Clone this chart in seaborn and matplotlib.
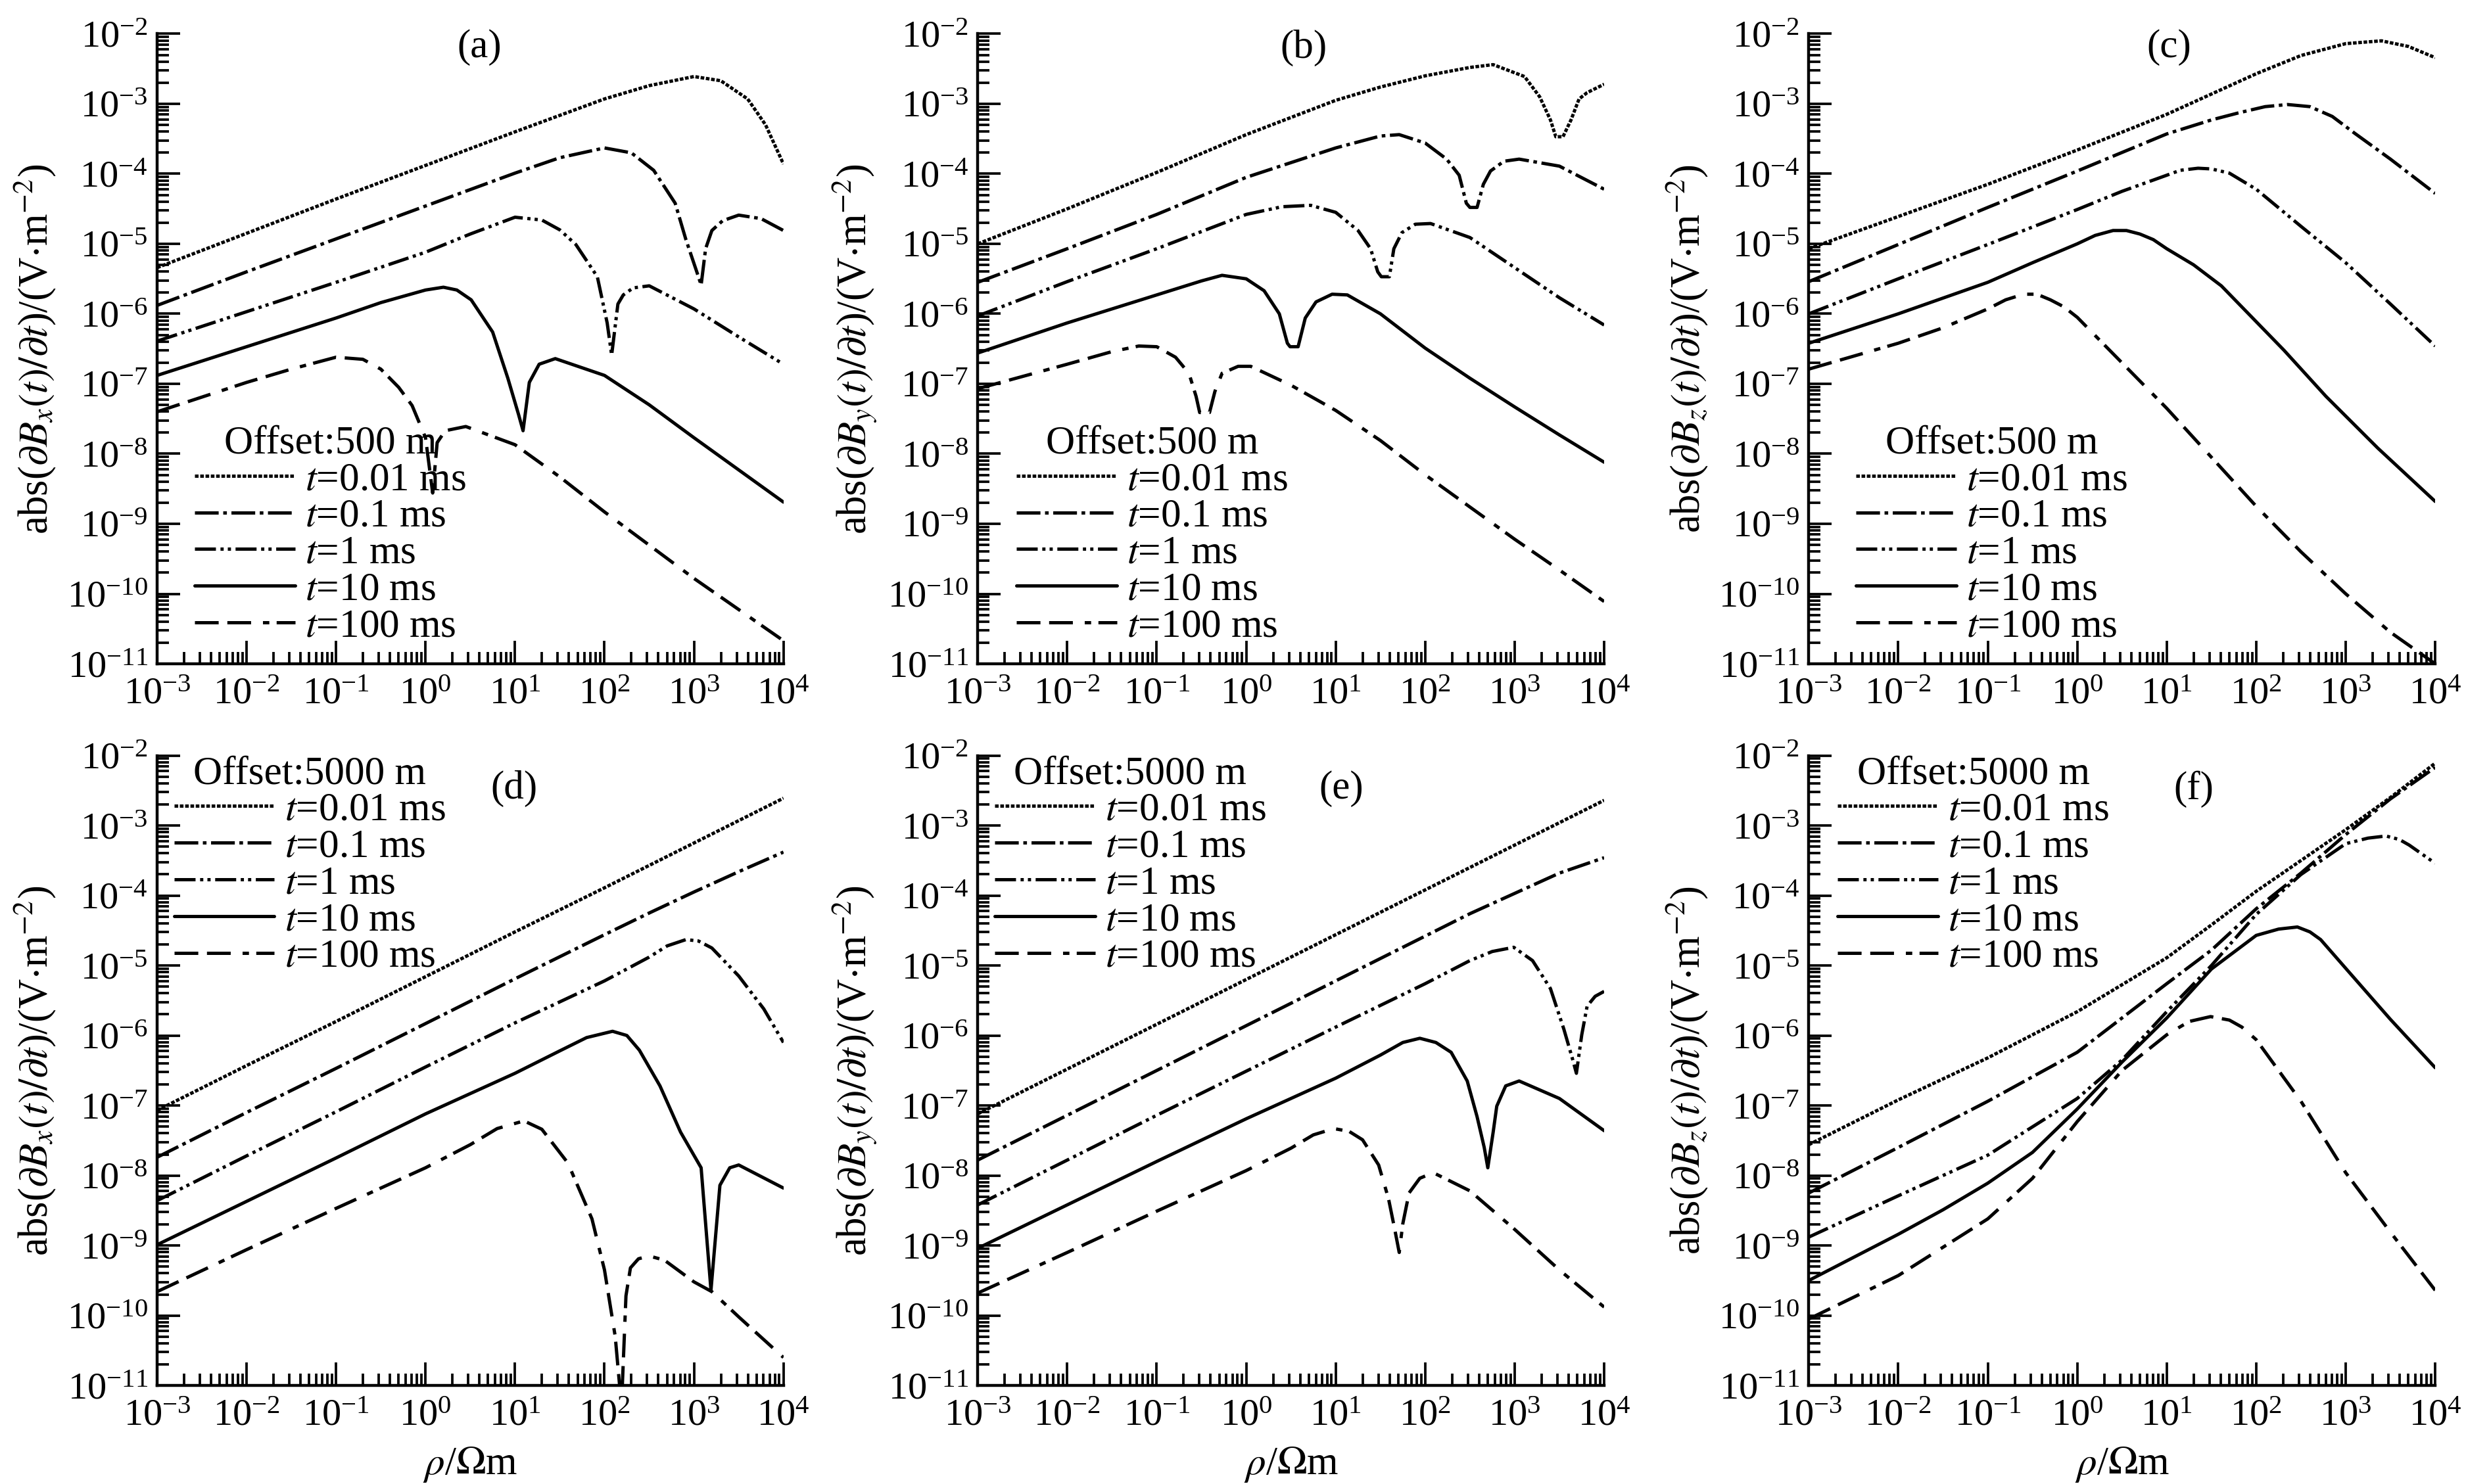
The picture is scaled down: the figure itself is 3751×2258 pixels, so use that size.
import numpy as np
import matplotlib
matplotlib.use('Agg')
import matplotlib.pyplot as plt
import seaborn as sns
from matplotlib.ticker import LogLocator, NullFormatter

# curve labels (time after turn-off)
times = ['0.01', '0.1', '1', '10', '100']

# every curve: (log10 rho [Ohm m], log10 |dB/dt| [V m^-2])
# (a) Bx, offset 500 m
a_t001 = [(-3, -5.34), (-2, -4.85), (-1, -4.36), (0, -3.88), (1, -3.40), (2, -2.93), (2.5, -2.74),
          (3, -2.61), (3.3, -2.67), (3.6, -2.93), (3.8, -3.30), (4, -3.86)]
a_t01 = [(-3, -5.88), (-2, -5.40), (-1, -4.93), (0, -4.46), (1, -3.99), (1.5, -3.77), (2, -3.63),
         (2.3, -3.70), (2.55, -3.95), (2.79, -4.42), (2.91, -4.94), (3.05, -5.47), (3.08, -5.59),
         (3.13, -5.07), (3.2, -4.81), (3.32, -4.67), (3.5, -4.59), (3.75, -4.64), (4, -4.81)]
a_t1 = [(-3, -6.39), (-2, -5.97), (-1, -5.55), (0, -5.12), (0.5, -4.86), (1, -4.62), (1.3, -4.66),
        (1.5, -4.80), (1.68, -5.01), (1.92, -5.47), (2.03, -6.13), (2.08, -6.59), (2.15, -5.86),
        (2.21, -5.73), (2.32, -5.63), (2.5, -5.60), (3, -5.93), (3.5, -6.33), (4, -6.72)]
a_t10 = [(-3, -6.88), (-2, -6.47), (-1, -6.06), (-0.5, -5.84), (0, -5.66), (0.2, -5.62), (0.35, -5.66),
         (0.51, -5.80), (0.75, -6.26), (0.92, -6.92), (1.04, -7.44), (1.09, -7.67), (1.16, -6.98),
         (1.27, -6.72), (1.45, -6.64), (2, -6.88), (2.5, -7.30), (3, -7.77), (3.5, -8.23), (4, -8.69)]
a_t100 = [(-3, -7.40), (-2, -6.98), (-1.5, -6.79), (-1, -6.62), (-0.7, -6.65), (-0.5, -6.79),
          (-0.3, -7.05), (-0.15, -7.31), (0, -7.77), (0.08, -8.56), (0.13, -7.84), (0.22, -7.67),
          (0.45, -7.61), (1, -7.87), (1.5, -8.33), (2, -8.83), (3, -9.78), (4, -10.67)]

# (b) By, offset 500 m
b_t001 = [(-3, -5.0), (-2, -4.50), (-1, -3.98), (0, -3.44), (1, -2.95), (1.5, -2.76), (2, -2.60),
          (2.5, -2.48), (2.76, -2.44), (3.11, -2.61), (3.28, -2.90), (3.40, -3.23), (3.46, -3.47),
          (3.54, -3.47), (3.63, -3.23), (3.72, -2.93), (3.81, -2.84), (4, -2.72)]
b_t01 = [(-3, -5.55), (-2, -5.07), (-1, -4.58), (0, -4.05), (1, -3.63), (1.5, -3.46), (1.71, -3.44),
         (2, -3.56), (2.24, -3.79), (2.38, -4.02), (2.46, -4.42), (2.5, -4.48), (2.58, -4.48),
         (2.65, -4.15), (2.73, -3.96), (2.88, -3.82), (3.05, -3.79), (3.5, -3.89), (4, -4.22)]
b_t1 = [(-3, -6.03), (-2, -5.54), (-1, -5.07), (0, -4.58), (0.4, -4.47), (0.72, -4.45), (1, -4.55),
        (1.25, -4.81), (1.39, -5.07), (1.47, -5.40), (1.51, -5.47), (1.6, -5.47), (1.65, -5.07),
        (1.74, -4.84), (1.89, -4.72), (2.06, -4.71), (2.5, -4.91), (3, -5.34), (3.5, -5.77), (4, -6.16)]
b_t10 = [(-3, -6.56), (-2, -6.13), (-1, -5.73), (-0.5, -5.53), (-0.27, -5.45), (0, -5.50), (0.2, -5.67),
         (0.37, -6.0), (0.46, -6.42), (0.49, -6.47), (0.58, -6.47), (0.66, -6.06), (0.78, -5.83),
         (0.96, -5.72), (1.13, -5.73), (1.5, -6.0), (2, -6.49), (2.5, -6.92), (3, -7.33), (3.5, -7.73),
         (4, -8.12)]
b_t100 = [(-3, -7.07), (-2, -6.72), (-1.5, -6.54), (-1.2, -6.46), (-1, -6.47), (-0.79, -6.62),
          (-0.64, -6.85), (-0.56, -7.18), (-0.52, -7.41), (-0.41, -7.41), (-0.35, -7.11), (-0.27, -6.85),
          (-0.09, -6.75), (0.05, -6.75), (0.5, -7.02), (1, -7.38), (1.5, -7.81), (2, -8.30),
          (2.5, -8.76), (3, -9.22), (3.5, -9.66), (4, -10.11)]

# (c) Bz, offset 500 m
c_t001 = [(-3, -5.07), (-2, -4.61), (-1, -4.15), (0, -3.66), (1, -3.15), (2, -2.57), (2.5, -2.31),
          (3, -2.14), (3.4, -2.10), (3.7, -2.18), (4, -2.34)]
c_t01 = [(-3, -5.54), (-2, -5.01), (-1, -4.48), (0, -3.96), (1, -3.43), (1.5, -3.23), (1.8, -3.13),
         (2.1, -3.04), (2.35, -3.01), (2.6, -3.04), (2.85, -3.18), (3.1, -3.42), (3.5, -3.79), (4, -4.28)]
c_t1 = [(-3, -6.0), (-2, -5.50), (-1, -5.01), (0, -4.51), (0.5, -4.25), (1, -4.02), (1.15, -3.95),
        (1.35, -3.92), (1.5, -3.93), (1.7, -3.99), (2, -4.22), (2.5, -4.75), (3, -5.27), (3.5, -5.86),
        (4, -6.46)]
c_t10 = [(-3, -6.42), (-2, -6.0), (-1, -5.55), (-0.5, -5.27), (0, -5.0), (0.2, -4.88), (0.4, -4.81),
         (0.55, -4.81), (0.7, -4.86), (0.85, -4.94), (1, -5.07), (1.3, -5.30), (1.61, -5.60),
         (2.31, -6.52), (2.78, -7.18), (3.36, -7.92), (4, -8.68)]
c_t100 = [(-3, -6.79), (-2, -6.42), (-1.5, -6.20), (-1, -5.93), (-0.8, -5.80), (-0.6, -5.72),
          (-0.45, -5.72), (-0.3, -5.80), (-0.15, -5.90), (0, -6.05), (0.5, -6.70), (1, -7.35),
          (1.5, -8.05), (2, -8.75), (2.5, -9.40), (3, -10.0), (3.5, -10.55), (4, -11.0)]

# (d) Bx, offset 5000 m
d_t001 = [(-3, -7.07), (-2, -6.43), (-1, -5.80), (0, -5.16), (1, -4.52), (2, -3.89), (3, -3.25), (4, -2.61)]
d_t01 = [(-3, -7.74), (-2, -7.10), (-1, -6.47), (0, -5.83), (1, -5.19), (2, -4.56), (2.5, -4.25),
         (3, -3.95), (3.5, -3.66), (4, -3.38)]
d_t1 = [(-3, -8.36), (-2, -7.72), (-1, -7.09), (0, -6.45), (1, -5.82), (2, -5.22), (2.5, -4.88),
        (2.7, -4.72), (2.91, -4.63), (3.05, -4.65), (3.2, -4.75), (3.5, -5.15), (3.78, -5.62), (4, -6.10)]
d_t10 = [(-3, -8.99), (-2, -8.37), (-1, -7.75), (0, -7.12), (1, -6.54), (1.5, -6.22), (1.8, -6.03),
         (2.09, -5.94), (2.25, -6.0), (2.39, -6.21), (2.62, -6.72), (2.85, -7.38), (3.08, -7.89),
         (3.19, -9.64), (3.29, -8.14), (3.40, -7.89), (3.5, -7.85), (4, -8.18)]
d_t100 = [(-3, -9.66), (-2, -9.06), (-1, -8.47), (0, -7.89), (0.5, -7.56), (0.8, -7.33), (1.1, -7.22),
          (1.30, -7.34), (1.59, -7.82), (1.86, -8.62), (2.0, -9.35), (2.12, -10.30), (2.19, -11.3),
          (2.24, -9.72), (2.29, -9.32), (2.38, -9.19), (2.5, -9.15), (2.67, -9.21), (3.0, -9.52),
          (3.2, -9.66), (3.5, -10.02), (4, -10.60)]

# (e) By, offset 5000 m
e_t001 = [(-3, -7.12), (-2, -6.48), (-1, -5.84), (0, -5.20), (1, -4.56), (2, -3.92), (3, -3.28), (4, -2.64)]
e_t01 = [(-3, -7.78), (-2, -7.14), (-1, -6.50), (0, -5.86), (1, -5.22), (2, -4.58), (2.5, -4.26),
         (3, -3.97), (3.5, -3.68), (4, -3.46)]
e_t1 = [(-3, -8.42), (-2, -7.78), (-1, -7.14), (0, -6.51), (1, -5.88), (2, -5.26), (2.5, -4.93),
        (2.75, -4.80), (2.99, -4.74), (3.2, -4.93), (3.4, -5.33), (3.55, -5.91), (3.65, -6.35),
        (3.69, -6.54), (3.75, -5.99), (3.81, -5.58), (3.9, -5.44), (4, -5.37)]
e_t10 = [(-3, -9.04), (-2, -8.42), (-1, -7.80), (0, -7.19), (1, -6.61), (1.5, -6.28), (1.75, -6.10),
         (1.94, -6.04), (2.12, -6.10), (2.29, -6.24), (2.47, -6.65), (2.58, -7.16), (2.66, -7.60),
         (2.70, -7.89), (2.76, -7.38), (2.80, -7.01), (2.90, -6.72), (3.05, -6.65), (3.5, -6.90),
         (4, -7.36)]
e_t100 = [(-3, -9.68), (-2, -9.10), (-1, -8.51), (0, -7.93), (0.5, -7.61), (0.75, -7.42), (0.98, -7.33),
          (1.15, -7.37), (1.30, -7.49), (1.48, -7.85), (1.59, -8.33), (1.66, -8.77), (1.71, -9.10),
          (1.75, -8.69), (1.82, -8.25), (1.94, -8.04), (2.09, -7.96), (2.5, -8.22), (3, -8.77),
          (3.5, -9.35), (4, -9.88)]

# (f) Bz, offset 5000 m
f_t001 = [(-3, -7.56), (-2, -6.92), (-1, -6.32), (0, -5.66), (1, -4.89), (1.5, -4.42), (2, -3.94),
          (2.5, -3.50), (3, -3.06), (3.5, -2.60), (4, -2.11)]
f_t01 = [(-3, -8.25), (-2, -7.60), (-1, -6.94), (0, -6.24), (1, -5.26), (1.5, -4.78), (2, -4.19),
         (2.5, -3.68), (3, -3.13), (3.5, -2.62), (4, -2.17)]
f_t1 = [(-3, -8.88), (-2, -8.29), (-1, -7.71), (0, -6.90), (0.5, -6.35), (1, -5.66), (1.5, -5.0),
        (2, -4.27), (2.5, -3.70), (3, -3.26), (3.25, -3.18), (3.45, -3.15), (3.6, -3.20), (3.71, -3.28),
        (4, -3.54)]
f_t10 = [(-3, -9.50), (-2, -8.84), (-1.5, -8.49), (-1, -8.11), (-0.5, -7.67), (0, -7.05), (0.5, -6.38),
         (1, -5.75), (1.5, -5.05), (2, -4.57), (2.25, -4.48), (2.46, -4.45), (2.6, -4.52), (2.72, -4.63),
         (3, -5.04), (3.5, -5.77), (4, -6.46)]
f_t100 = [(-3, -10.05), (-2, -9.43), (-1, -8.62), (-0.5, -8.04), (0, -7.23), (0.5, -6.50), (1, -5.99),
          (1.25, -5.80), (1.49, -5.73), (1.7, -5.78), (1.84, -5.88), (2, -6.06), (2.5, -6.94),
          (3, -7.96), (3.5, -8.81), (4, -9.64)]

panel_curves = [
    [a_t001, a_t01, a_t1, a_t10, a_t100],
    [b_t001, b_t01, b_t1, b_t10, b_t100],
    [c_t001, c_t01, c_t1, c_t10, c_t100],
    [d_t001, d_t01, d_t1, d_t10, d_t100],
    [e_t001, e_t01, e_t1, e_t10, e_t100],
    [f_t001, f_t01, f_t1, f_t10, f_t100],
]
panel_letters = ['a', 'b', 'c', 'd', 'e', 'f']
panel_comp = ['x', 'y', 'z', 'x', 'y', 'z']
panel_offset = [500, 500, 500, 5000, 5000, 5000]

# dash patterns in points: fine dash, dash-dot, dash-dot-dot, solid, long-long-short
line_styles = [(0, (4, 1.8)), (0, (26, 5, 4, 5)), (0, (23, 5, 3.5, 4.5, 3.5, 5)), '-',
               (0, (26, 9.5, 26, 13, 7, 8))]

sns.set_theme(style='ticks', rc={'axes.edgecolor': 'black', 'xtick.color': 'black',
                                 'ytick.color': 'black', 'text.color': 'black',
                                 'axes.labelcolor': 'black'})
plt.rcParams['font.family'] = ['Liberation Serif', 'DejaVu Serif']
plt.rcParams['mathtext.fontset'] = 'stix'
plt.rcParams['lines.scale_dashes'] = False

TICK_FS = 42
LEG_FS = 44
YLAB_FS = 45
LW = 3.6

fig = plt.figure(figsize=(37.51, 22.58), dpi=100)
lefts = [0.0637, 0.3965, 0.7335]
bottoms = [0.5527, 0.0664]
W, H = 0.254, 0.4245

label_x = [0.515, 0.52, 0.575, 0.57, 0.58, 0.615]
leg_x = [0.06, 0.062, 0.075, 0.027, 0.027, 0.046]

for i in range(6):
    row, col = i // 3, i % 3
    ax = fig.add_axes([lefts[col], bottoms[row], W, H])
    ax.set_xscale('log')
    ax.set_yscale('log')

    for t, curve, ls in zip(times, panel_curves[i], line_styles):
        arr = np.array(curve)
        sns.lineplot(x=10 ** arr[:, 0], y=10 ** arr[:, 1], ax=ax, color='black', lw=LW,
                     linestyle=ls, label=r'$t$=' + t + ' ms', sort=False, estimator=None)

    ax.set_xlim(1e-3, 1e4)
    ax.set_ylim(1e-11, 1e-2)
    for axis in [ax.xaxis, ax.yaxis]:
        axis.set_major_locator(LogLocator(base=10, numticks=20))
        axis.set_minor_locator(LogLocator(base=10, subs=np.arange(2, 10), numticks=200))
        axis.set_minor_formatter(NullFormatter())
    ax.tick_params(which='both', direction='in', width=2.7, labelsize=TICK_FS)
    ax.tick_params(which='major', length=25)
    ax.tick_params(which='minor', length=13)
    ax.tick_params(axis='x', pad=15)
    ax.tick_params(axis='y', pad=10)
    sns.despine(ax=ax)
    for s in ['left', 'bottom']:
        ax.spines[s].set_linewidth(3.2)

    ylab = r'abs($\partial B_' + panel_comp[i] + r'(t)/\partial t$)/(V$\cdot$m$^{-2}$)'
    ax.set_ylabel(ylab, fontsize=YLAB_FS)
    ax.yaxis.set_label_coords(-0.158, 0.5)
    if row == 1:
        ax.set_xlabel(r'$\rho$/$\Omega$m', fontsize=LEG_FS)
        ax.xaxis.set_label_coords(0.5, -0.095)
    else:
        ax.set_xlabel('')

    ty = 0.978 if row == 0 else 0.947
    ax.text(label_x[i], ty, '(' + panel_letters[i] + ')', transform=ax.transAxes,
            ha='center', va='center', fontsize=LEG_FS)

    title = 'Offset:%d m' % panel_offset[i]
    if row == 0:
        loc, anchor = 'lower left', (leg_x[i], 0.03)
    else:
        loc, anchor = 'upper left', (leg_x[i], 1.0)
    ax.legend(title=title, loc=loc, bbox_to_anchor=anchor, frameon=False, fontsize=LEG_FS,
              title_fontsize=LEG_FS, handlelength=2.5, handletextpad=0.25, labelspacing=0.0,
              borderpad=0, borderaxespad=0)

fig.savefig('out.png', dpi=100, facecolor='white')
